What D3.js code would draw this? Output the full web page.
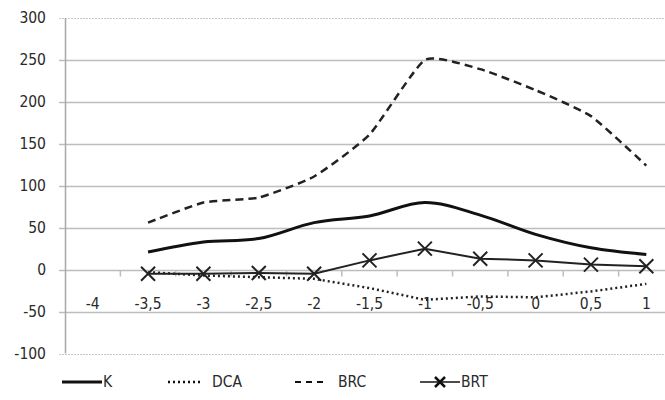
<!DOCTYPE html>
<html><head><meta charset="utf-8">
<script src="https://cdn.jsdelivr.net/npm/d3@7"></script>
<style>body{margin:0;background:#fff}svg{display:block}text{font-family:"DejaVu Sans Condensed","Liberation Sans",Arial,sans-serif;fill:#2a2a2a}</style>
</head><body><svg id="c" width="665" height="400"></svg>
<script>
const categories = ["-4","-3,5","-3","-2,5","-2","-1,5","-1","-0,5","0","0,5","1"];
const K   = [null,21,33,37,56,64,80,65,42,26,18];
const DCA = [null,-3,-7,-9,-11,-22,-36,-32,-33,-26,-17];
const BRC = [null,56,80,86,111,161,250,239,214,183,124];
const BRT = [null,-5,-5,-4,-5,11,25,13,11,6,4];
const yTicks = [-100,-50,0,50,100,150,200,250,300];

const svg = d3.select("#c");
const L = 65, R = 674, T = 18, B = 353.5;
const x = d3.scaleBand().domain(categories).range([L, R]).padding(0);
const y = d3.scaleLinear().domain([-100, 300]).range([B, T]);
const cx = c => x(c) + x.bandwidth()/2;

// gridlines
svg.append("g").selectAll("line").data(yTicks).join("line")
  .attr("x1", L - 6).attr("x2", 665)
  .attr("y1", d => Math.round(y(d)) + 0.5).attr("y2", d => Math.round(y(d)) + 0.5)
  .attr("stroke", d => (d === 300 || d === -100) ? "#c8c8c8" : "#bdbdbd")
  .attr("stroke-width", d => (d === 300 || d === -100) ? 1 : 1.5)
  .attr("stroke-dasharray", d => (d === 300 || d === -100) ? "2,1" : null);
// y axis line
svg.append("line").attr("x1", L + 0.5).attr("x2", L + 0.5).attr("y1", y(300)).attr("y2", y(-100))
  .attr("stroke", "#a8a8a8").attr("stroke-width", 1.5);
// y labels
svg.append("g").selectAll("text").data(yTicks).join("text")
  .attr("x", 46).attr("y", d => y(d)).attr("dy", "0.35em").attr("text-anchor", "end")
  .attr("font-size", 15.5).text(d => d);
// x axis ticks at category boundaries on y=0
const y0 = Math.round(y(0)) + 0.5;
svg.append("g").selectAll("line").data(categories.slice(1)).join("line")
  .attr("x1", d => x(d)).attr("x2", d => x(d)).attr("y1", y0).attr("y2", y0 + 6)
  .attr("stroke", "#bdbdbd").attr("stroke-width", 1.5);
// x labels
svg.append("g").selectAll("text").data(categories).join("text")
  .attr("x", d => cx(d)).attr("y", y(-40)).attr("dy", "0.35em").attr("text-anchor", "middle")
  .attr("font-size", 15.5).text(d => d);

function series(vals, curve, attrs) {
  const pts = categories.map((c, i) => [c, vals[i]]).filter(p => p[1] !== null);
  const line = d3.line().x(p => cx(p[0])).y(p => y(p[1])).curve(curve);
  const p = svg.append("path").attr("d", line(pts)).attr("fill", "none");
  Object.entries(attrs).forEach(([k, v]) => p.attr(k, v));
  return pts;
}
series(DCA, d3.curveLinear, {stroke: "#222", "stroke-width": 2.5, "stroke-dasharray": "2,3"});
series(BRC, d3.curveCardinal.tension(0.5), {stroke: "#222", "stroke-width": 2.5, "stroke-dasharray": "8,5"});
series(K, d3.curveCatmullRom.alpha(0.5), {stroke: "#111", "stroke-width": 3});
const brtPts = series(BRT, d3.curveLinear, {stroke: "#222", "stroke-width": 2});
const m = 7;
svg.append("g").selectAll("path").data(brtPts).join("path")
  .attr("d", p => { const a = cx(p[0]), b = y(p[1]); return `M${a-m},${b-m}L${a+m},${b+m}M${a-m},${b+m}L${a+m},${b-m}`; })
  .attr("stroke", "#222").attr("stroke-width", 2).attr("fill", "none");

// legend
const names = ["K","DCA","BRC","BRT"];
const lg = [
  {x1: 62, x2: 102, tx: 103, st: {"stroke-width": 3}},
  {x1: 168, x2: 200, tx: 212, st: {"stroke-width": 2.5, "stroke-dasharray": "2,3"}},
  {x1: 295, x2: 328, tx: 338, st: {"stroke-width": 2, "stroke-dasharray": "6,5"}},
  {x1: 420, x2: 460, tx: 461, st: {"stroke-width": 1.5}}
];
const ly = 382;
lg.forEach((d, i) => {
  const l = svg.append("line").attr("x1", d.x1).attr("x2", d.x2).attr("y1", ly).attr("y2", ly).attr("stroke", "#111");
  Object.entries(d.st).forEach(([k, v]) => l.attr(k, v));
  svg.append("text").attr("x", d.tx).attr("y", ly).attr("dy", "0.35em").attr("font-size", 15.5).text(names[i]);
});
const mx = 440, mm = 5;
svg.append("path").attr("d", `M${mx-mm},${ly-mm}L${mx+mm},${ly+mm}M${mx-mm},${ly+mm}L${mx+mm},${ly-mm}`)
  .attr("stroke", "#111").attr("stroke-width", 2.5);
</script></body></html>
